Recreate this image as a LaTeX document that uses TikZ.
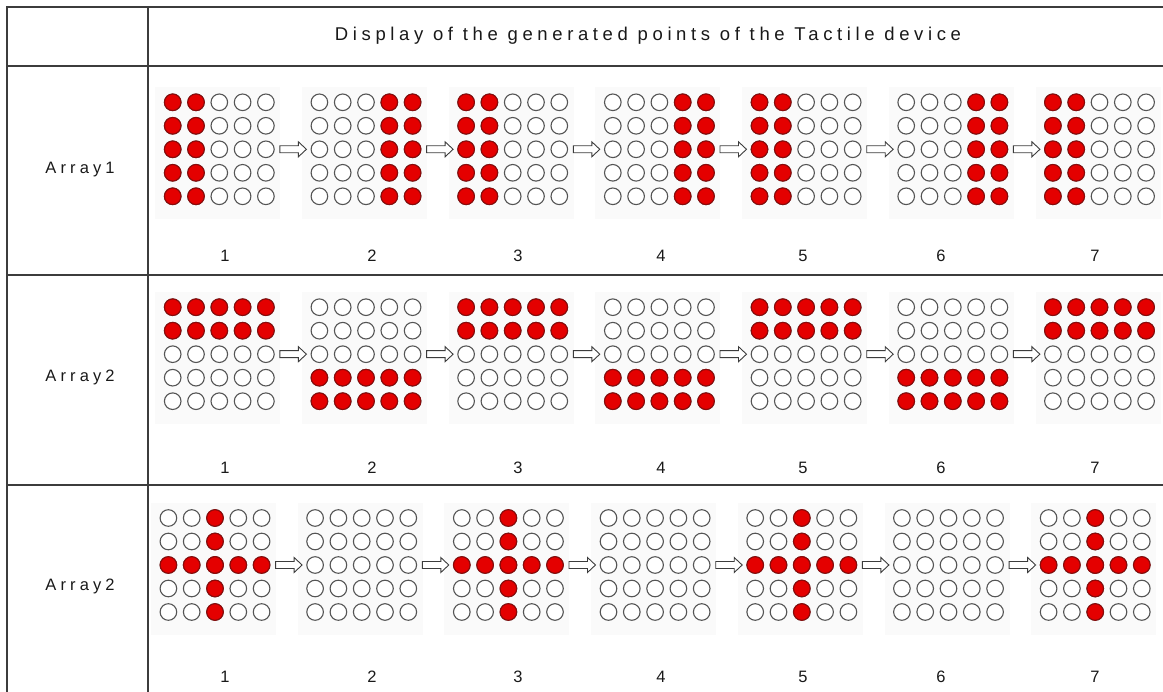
\documentclass[tikz,border=0pt]{standalone}
\usepackage{fontspec}
\setmainfont{Liberation Sans}[LetterSpace=25]
\usetikzlibrary{calc}

\definecolor{dotred}{RGB}{228,0,0}
\definecolor{dotrim}{RGB}{140,10,10}
\definecolor{rimgray}{RGB}{85,85,85}
\definecolor{rulegray}{RGB}{60,60,60}

\newcommand{\dotgrid}[3]{%
  \node[gridbox] (#1) at ({#2},{#3}) {};
  \fill[black!2] ($(#1.center)+(-64,-62)$) rectangle ($(#1.center)+(61,70)$);
  \foreach \c in {1,...,5}
    \foreach \r in {1,...,5}
      \node[offdot] at ($(#1.center)+({(\c-3)*23.3},{(\r-3)*23.5})$) {};
}
\newcommand{\reddots}[3]{%
  \foreach \c in {#2}
    \foreach \r in {#3}
      \node[ondot] at ($(#1.center)+({(\c-3)*23.3},{(\r-3)*23.5})$) {};
}
\newcommand{\steparrow}[2]{%
  \draw[blockarrow] let \p1=($(#1.east)+(5,0)$), \p2=($(#2.west)+(-4,0)$) in
    (\x1,\y1-3.5pt) -- (\x2-8pt,\y1-3.5pt) -- (\x2-8pt,\y1-7.5pt) -- (\x2,\y1)
    -- (\x2-8pt,\y1+7.5pt) -- (\x2-8pt,\y1+3.5pt) -- (\x1,\y1+3.5pt) -- cycle;
}

\begin{document}
\begin{tikzpicture}[x=1pt,y=-1pt,
  offdot/.style={circle,draw=rimgray,fill=white,line width=1.1pt,minimum size=16.6pt,inner sep=0pt},
  ondot/.style={offdot,draw=dotrim,fill=dotred},
  gridbox/.style={rectangle,minimum width=110.8pt,minimum height=111.6pt,inner sep=0pt},
  blockarrow/.style={draw=rulegray,fill=white,line width=0.9pt,line join=miter},
  rule/.style={draw=rulegray,line width=1.4pt},
  txt/.style={text=black!90,font=\fontsize{16.5}{19}\selectfont,inner sep=0pt}]
  \useasboundingbox[fill=white] (0,0) rectangle (1163,692);

  \draw[rule] (1163,7) -- (7,7) -- (7,692);
  \draw[rule] (148,7) -- (148,692);
  \draw[rule] (7,66) -- (1163,66);
  \draw[rule] (7,275) -- (1163,275);
  \draw[rule] (7,485) -- (1163,485);

  \node[txt,font=\fontsize{18.5}{21}\selectfont] (title) at (648,36) {Display of the generated points of the Tactile device};
  \node[txt] (rowa) at (80,170) {Array1};
  \node[txt] (rowb) at (80,377) {Array2};
  \node[txt] (rowc) at (80,586) {Array2};

  \foreach \k in {1,...,7} {
    \dotgrid{a\k}{219.3+146.7*(\k-1)}{149.3}
    \dotgrid{b\k}{219.3+146.7*(\k-1)}{354.2}
    \dotgrid{c\k}{215+146.7*(\k-1)}{565}
  }
  \foreach \k in {1,3,5,7} {
    \reddots{a\k}{1,2}{1,...,5}
    \reddots{b\k}{1,...,5}{1,2}
    \reddots{c\k}{3}{1,...,5}
    \reddots{c\k}{1,...,5}{3}
  }
  \foreach \k in {2,4,6} {
    \reddots{a\k}{4,5}{1,...,5}
    \reddots{b\k}{1,...,5}{4,5}
  }
  \foreach \k [evaluate=\k as \nxt using int(\k+1)] in {1,...,6} {
    \steparrow{a\k}{a\nxt}
    \steparrow{b\k}{b\nxt}
    \steparrow{c\k}{c\nxt}
  }

  \foreach \k/\xx in {1/225,2/372,3/518,4/661,5/803,6/941,7/1095} {
    \node[txt] (na\k) at (\xx,256) {\k};
    \node[txt] (nb\k) at (\xx,468) {\k};
    \node[txt] (nc\k) at (\xx,677) {\k};
  }
\end{tikzpicture}
\end{document}
